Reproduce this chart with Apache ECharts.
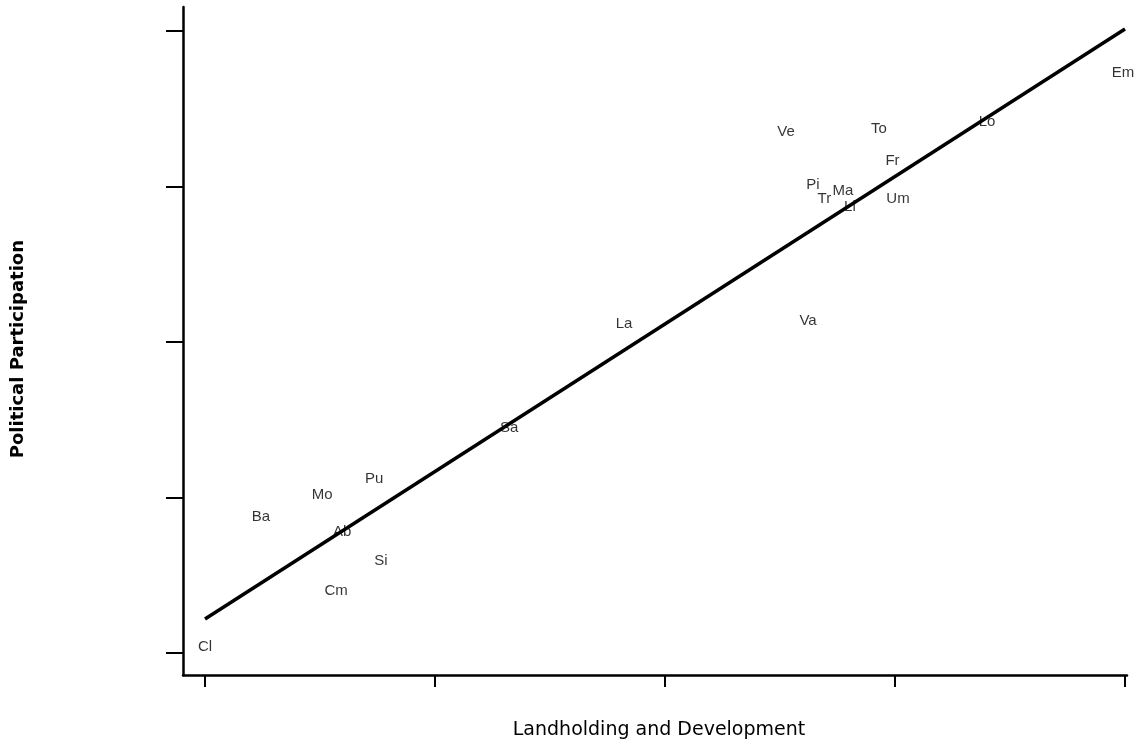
<!DOCTYPE html>
<html>
<head>
<meta charset="utf-8">
<script src="https://cdn.jsdelivr.net/npm/echarts@6/dist/echarts.min.js"></script>
<style>html,body{margin:0;padding:0;background:#fff;}#c{width:1140px;height:744px;}</style>
</head>
<body>
<div id="c"></div>
<script>
const names = ['Cl','Cm','Si','Ab','Ba','Mo','Pu','Sa','La','Va','Ve','To','Lo','Em','Fr','Pi','Ma','Tr','Li','Um'];
const xVals = [0.000,0.570,0.765,0.596,0.243,0.509,0.735,1.322,1.822,2.622,2.526,2.930,3.400,3.991,2.989,2.643,2.774,2.693,2.804,3.013];
const yVals = [0.039,0.399,0.592,0.778,0.875,1.016,1.119,1.447,2.116,2.135,3.350,3.370,3.415,3.730,3.164,3.010,2.971,2.920,2.868,2.920];
const fitX = [0, 4];
const fitY = [0.219, 4.013];
const xTicks = [0, 1, 2, 3, 4];
const yTicks = [0, 1, 2, 3, 4];

const chart = echarts.init(document.getElementById('c'), null, {renderer: 'canvas'});
const pts = names.map((n, i) => ({name: n, value: [xVals[i], yVals[i]]}));
chart.setOption({
  animation: false,
  backgroundColor: '#fff',
  grid: {left: 183, top: 7, right: 13, bottom: 69, containLabel: false, outerBoundsMode: 'none'},
  xAxis: {
    type: 'value', min: -0.0957, max: 4.0087,
    name: 'Landholding and Development', nameLocation: 'middle', nameGap: 46,
    nameTextStyle: {fontFamily: 'DejaVu Sans', fontSize: 19, color: '#000', padding: [0, 0, 0, 8]},
    axisLine: {show: true, onZero: false, lineStyle: {color: '#000', width: 2.5}},
    axisTick: {show: true, customValues: xTicks, length: 12, lineStyle: {color: '#000', width: 2}},
    axisLabel: {show: false},
    splitLine: {show: false}
  },
  yAxis: {
    type: 'value', min: -0.1415, max: 4.154,
    axisLine: {show: true, onZero: false, lineStyle: {color: '#000', width: 2.5}},
    axisTick: {show: true, customValues: yTicks, length: 17, lineStyle: {color: '#000', width: 2}},
    axisLabel: {show: false},
    splitLine: {show: false}
  },
  graphic: [{
    type: 'text', left: 9, top: 240, rotation: Math.PI / 2,
    style: {text: 'Political Participation', fontFamily: 'DejaVu Sans', fontWeight: 'bold', fontSize: 18, fill: '#000'}
  }],
  series: [
    {
      type: 'line', data: fitX.map((x, i) => [x, fitY[i]]), symbol: 'none',
      lineStyle: {color: '#000', width: 3.5}, z: 2
    },
    {
      type: 'scatter', data: pts, symbolSize: 0, z: 3,
      label: {show: true, position: 'inside', formatter: '{b}', color: '#000',
        fontFamily: 'Liberation Sans', fontSize: 15}
    }
  ]
});
</script>
</body>
</html>
